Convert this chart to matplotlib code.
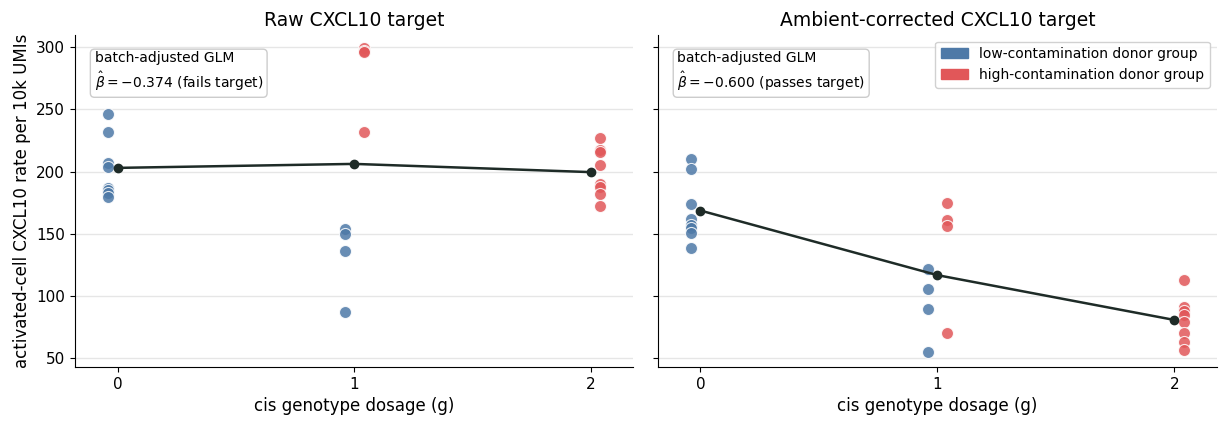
import matplotlib
matplotlib.use("Agg")
import matplotlib.pyplot as plt
from matplotlib.patches import Patch

# raw CXCL10 rate per donor, by genotype dosage and contamination group
raw_low = {0: [246, 232, 207, 204, 187, 185, 183, 180],
           1: [154, 150, 136, 87]}
raw_high = {1: [299, 297, 296, 232],
            2: [227, 217, 216, 205, 190, 188, 182, 172]}

amb_low = {0: [210, 202, 174, 162, 157, 155, 151, 139],
           1: [122, 105.5, 90, 55]}
amb_high = {1: [175, 161.5, 156, 70],
            2: [113, 91, 88, 85, 79, 70, 63, 57]}

dosage = [0, 1, 2]
raw_mean = [203, 206.2, 199.6]
amb_mean = [168.7, 116.8, 80.8]

titles = ["Raw CXCL10 target", "Ambient-corrected CXCL10 target"]
notes = ["batch-adjusted GLM\n$\\hat{\\beta} = -0.374$ (fails target)",
         "batch-adjusted GLM\n$\\hat{\\beta} = -0.600$ (passes target)"]

c_low = "#4e79a7"
c_high = "#e15759"

fig = plt.figure(figsize=(12.25, 4.26), dpi=100)
ax1 = fig.add_axes([0.0612, 0.1385, 0.4558, 0.78])
ax2 = fig.add_axes([0.537, 0.1385, 0.4565, 0.78], sharey=ax1)

panels = [(ax1, raw_low, raw_high, raw_mean), (ax2, amb_low, amb_high, amb_mean)]
for i, (ax, low, high, means) in enumerate(panels):
    for g, vals in low.items():
        ax.scatter([g - 0.04] * len(vals), vals, s=75, color=c_low, alpha=0.85,
                   edgecolor="white", linewidth=0.8, zorder=3)
    for g, vals in high.items():
        ax.scatter([g + 0.04] * len(vals), vals, s=75, color=c_high, alpha=0.85,
                   edgecolor="white", linewidth=0.8, zorder=3)
    ax.plot(dosage, means, color="#1e2b27", lw=1.8, marker="o", ms=6, zorder=4)
    ax.set_title(titles[i], fontsize=13.5)
    ax.set_xlabel("cis genotype dosage (g)", fontsize=12)
    ax.set_xticks(dosage)
    ax.set_xlim(-0.18, 2.18)
    ax.set_ylim(43, 310)
    ax.set_yticks([50, 100, 150, 200, 250, 300])
    ax.tick_params(labelsize=11)
    ax.grid(axis="y", color="#e6e6e6", lw=1)
    ax.set_axisbelow(True)
    ax.spines["top"].set_visible(False)
    ax.spines["right"].set_visible(False)
    ax.text(0.035, 0.95, notes[i], transform=ax.transAxes, fontsize=10,
            va="top", ha="left", linespacing=1.25,
            bbox=dict(boxstyle="round,pad=0.3", fc="white", ec="#cccccc"))

ax1.set_ylabel("activated-cell CXCL10 rate per 10k UMIs", fontsize=12)
plt.setp(ax2.get_yticklabels(), visible=False)

handles = [Patch(color=c_low, label="low-contamination donor group"),
           Patch(color=c_high, label="high-contamination donor group")]
ax2.legend(handles=handles, loc="upper right", fontsize=10, framealpha=0.9)

fig.savefig("out.png", dpi=100)
